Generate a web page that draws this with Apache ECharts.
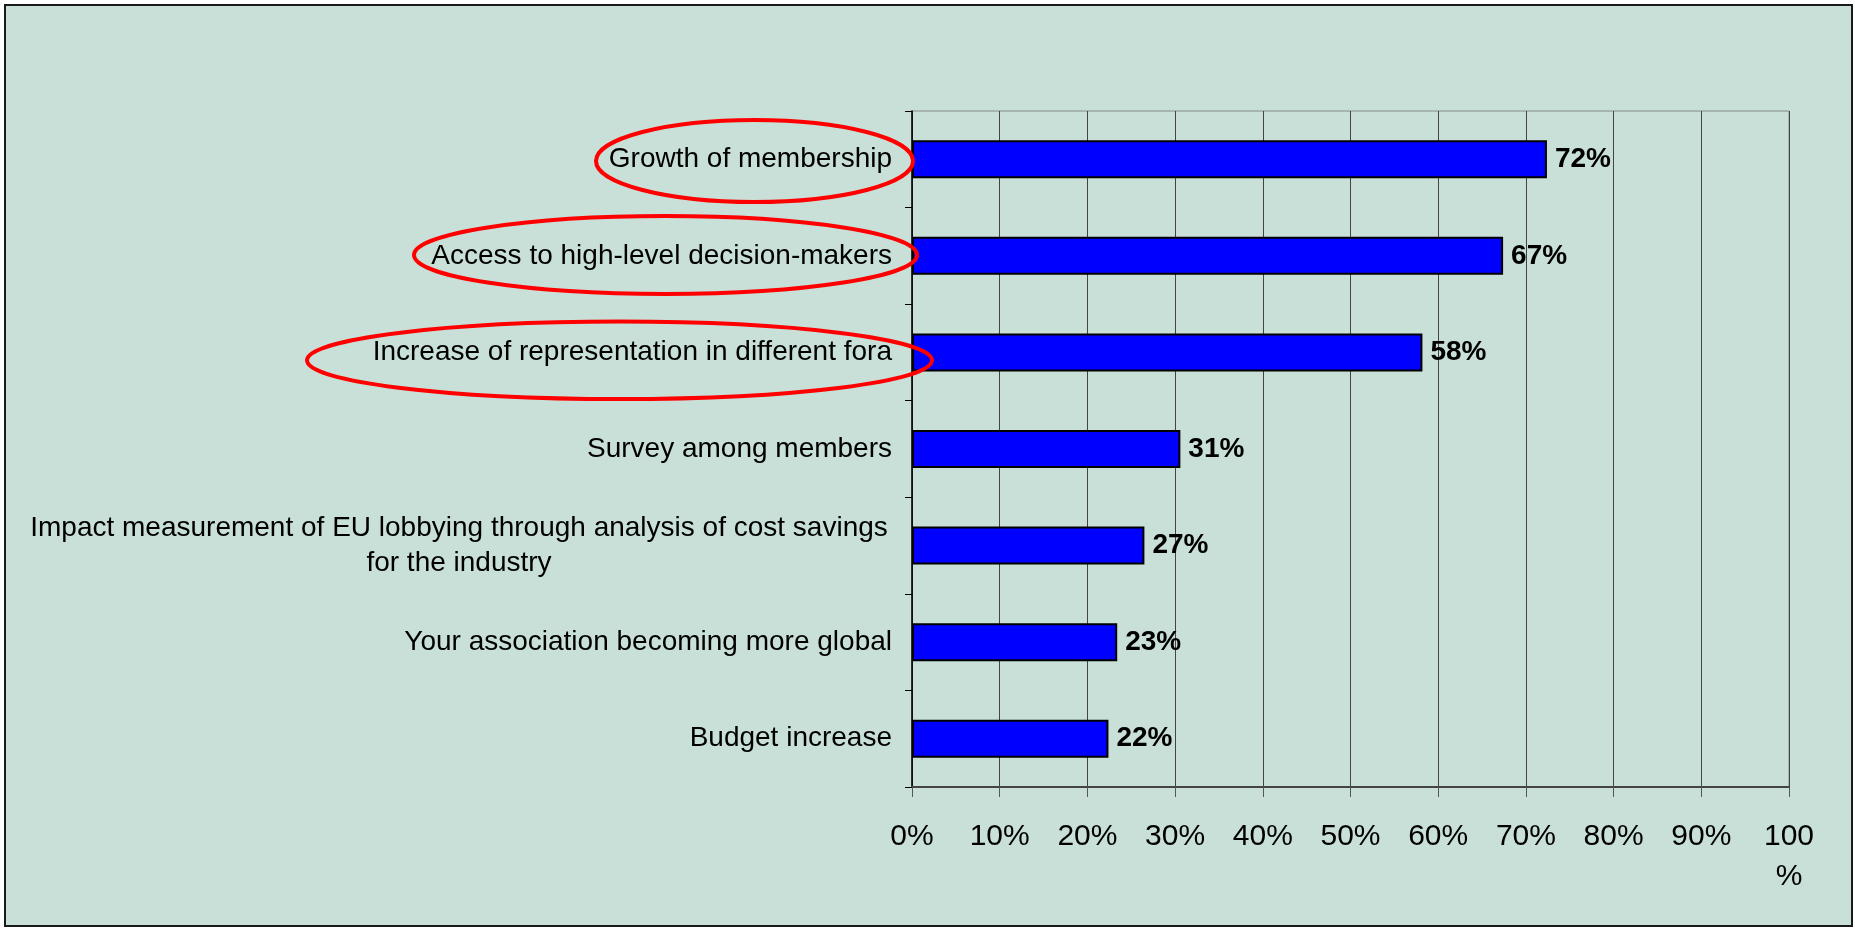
<!DOCTYPE html>
<html>
<head>
<meta charset="utf-8">
<script src="https://cdn.jsdelivr.net/npm/echarts@6/dist/echarts.min.js"></script>
<style>
  html, body { margin: 0; padding: 0; background: #ffffff; }
  #chart { width: 1855px; height: 929px; }
</style>
</head>
<body>
<div id="chart"></div>
<script>
// ---- data ----
const categories = [
  'Growth of membership',
  'Access to high-level decision-makers',
  'Increase of representation in different fora',
  'Survey among members',
  'Impact measurement of EU lobbying through analysis of cost savings\nfor the industry',
  'Your association becoming more global',
  'Budget increase'
];
const values = [72.4, 67.4, 58.2, 30.6, 26.5, 23.4, 22.4];
const xTickLabels = ['0%', '10%', '20%', '30%', '40%', '50%', '60%', '70%', '80%', '90%', '100\n%'];
const highlighted = [0, 1, 2];

// ---- chart ----
const FONT = '"Liberation Sans", Arial, sans-serif';
const chart = echarts.init(document.getElementById('chart'));

function catLabel(v) {
  if (v.indexOf('\n') >= 0) {
    return v.split('\n').map(function (s) { return '{c|' + s + '}'; }).join('\n');
  }
  return v;
}

const ellipses = [
  { cx: 754.5, cy: 161, rx: 158.5, ry: 41 },
  { cx: 665.5, cy: 255, rx: 251.5, ry: 39 },
  { cx: 619.5, cy: 360.3, rx: 312.5, ry: 38.7 }
];

chart.setOption({
  backgroundColor: '#ffffff',
  animation: false,
  graphic: [
    {
      type: 'rect', z: -10, silent: true,
      shape: { x: 5, y: 5, width: 1847, height: 921 },
      style: { fill: '#C8E0D8', stroke: '#1a1a1a', lineWidth: 2 }
    }
  ].concat(highlighted.map(function (i) {
    const e = ellipses[i];
    return {
      type: 'ellipse', z: 100, silent: true,
      shape: { cx: e.cx, cy: e.cy, rx: e.rx, ry: e.ry },
      style: { fill: null, stroke: '#FF0000', lineWidth: 4 }
    };
  })),
  grid: {
    left: 912, right: 66, top: 111, bottom: 142,
    containLabel: false,
    show: true, borderColor: '#888888', borderWidth: 1, backgroundColor: 'transparent'
  },
  xAxis: {
    type: 'value', min: 0, max: 100, interval: 10,
    axisLine: { show: true, lineStyle: { color: '#444444', width: 2 } },
    axisTick: { show: true, length: 10, lineStyle: { color: '#555555', width: 1 } },
    splitLine: { show: true, lineStyle: { color: '#444444', width: 1 } },
    axisLabel: {
      margin: 30, fontSize: 30, lineHeight: 40, color: '#000000', fontFamily: FONT,
      formatter: function (v) { return xTickLabels[Math.round(v / 10)]; }
    }
  },
  yAxis: {
    type: 'category', data: categories, inverse: true,
    axisLine: { show: true, lineStyle: { color: '#000000', width: 1.5 } },
    axisTick: { show: true, length: 7, lineStyle: { color: '#000000', width: 1 } },
    splitLine: { show: false },
    axisLabel: {
      margin: 20, fontSize: 28, lineHeight: 35, color: '#000000', fontFamily: FONT,
      formatter: catLabel,
      rich: { c: { width: 866, align: 'center', fontSize: 28, lineHeight: 35, fontFamily: FONT, color: '#000000' } }
    }
  },
  series: [{
    type: 'bar', data: values, barWidth: 38,
    itemStyle: { color: '#0000FF', borderColor: '#000000', borderWidth: 2 },
    label: {
      show: true, position: 'right', distance: 8,
      fontSize: 28, fontWeight: 'bold', color: '#000000', fontFamily: FONT,
      formatter: function (p) { return Math.round(p.value) + '%'; }
    }
  }]
});
</script>
</body>
</html>
